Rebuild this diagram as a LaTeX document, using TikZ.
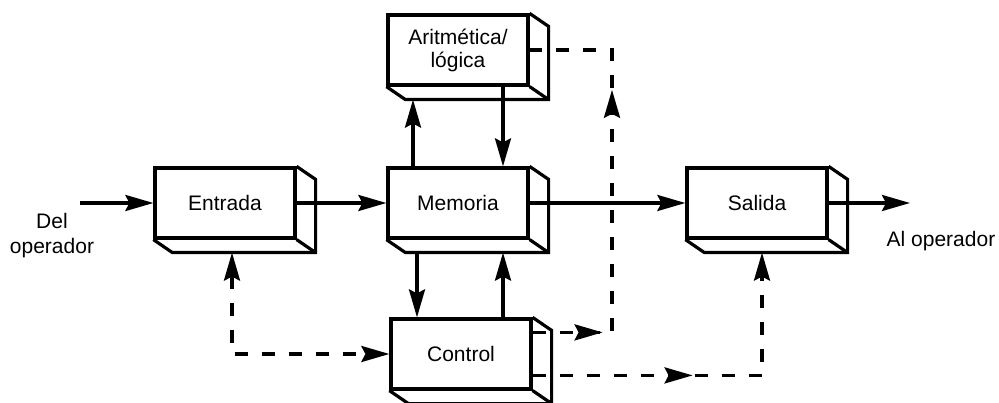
\documentclass[tikz,border=0pt]{standalone}
\usepackage{fontspec}
\setmainfont{Liberation Sans}
\usetikzlibrary{arrows.meta,calc,decorations.markings}
\begin{document}
\begin{tikzpicture}[x=1pt,y=-1pt,
  >={Stealth[length=28pt,width=16pt,inset=4pt]},
  edge/.style={line width=3.2pt},
  box/.style={draw, edge, fill=white, minimum width=140pt, minimum height=70pt, inner sep=0pt,
    font=\fontsize{21}{23}\selectfont, align=center},
  lbl/.style={font=\fontsize{21}{25}\selectfont, align=center, inner sep=0pt},
  dsh/.style={edge, dash pattern=on 13pt off 14pt},
  midarrow/.style={postaction={decorate, decoration={markings, mark=at position #1 with {\arrow{>}}}}}
]
\useasboundingbox (0,0) rectangle (999,403);

% boxes
\node[box] (ent) at (225,203) {Entrada};
\node[box] (mem) at (458,203) {Memoria};
\node[box] (ari) at (458,50) {Aritmética/\\lógica};
\node[box] (ctl) at (461,354) {Control};
\node[box] (sal) at (757,203) {Salida};

\foreach \n in {ent,mem,ari,ctl,sal}{
  \draw[edge] (\n.north east) -- ++(19,13) -- ($(\n.south east)+(19,13)$) -- ($(\n.south west)+(19,13)$) -- (\n.south west);
  \draw[edge] (\n.south east) -- ++(19,13);
}

% labels
\node[lbl] (del) at (52,236) {Del\\operador};
\node[lbl] (alop) at (941,241) {Al operador};

\coordinate (inA) at (80,203);
\coordinate (outA) at (910,203);

% solid flows
\draw[edge,->] (inA) -- (ent.west);
\draw[edge,->] (ent.east) -- (mem.west);
\draw[edge,->] (mem.east) -- (sal.west);
\draw[edge,->] (sal.east) -- (outA);

\draw[edge,->] ($(mem.north)+(-45,0)$) -- ($(ari.south)+(-45,13)$);
\draw[edge,->] ($(ari.south)+(45,0)$) -- ($(mem.north)+(45,0)$);
\draw[edge,->] ($(mem.south)+(-41,13)$) -- ($(ctl.north)+(-44,0)$);
\draw[edge,->] ($(ctl.north)+(42,0)$) -- ($(mem.south)+(45,13)$);

% dashed control lines
\coordinate (cA) at ($(ctl.north east)+(0,15)$);
\coordinate (jA) at (612,0);
\draw[dsh, midarrow=70pt, postaction={decorate, decoration={markings, mark=at position 322pt with {\arrow{>}}}}]
  (cA) -- (cA -| jA) -- (jA |- ari.east) -- (ari.east);

\coordinate (cB) at ($(ctl.north east)+(0,58)$);
\coordinate (eB) at ($(sal.south)+(5,13)$);
\draw[dsh, ->, midarrow=160pt] (cB) -- (cB -| eB) -- (eB);

\coordinate (eC) at ($(ent.south)+(7,13)$);
\draw[dsh, <->] (eC) |- (ctl.west);
\end{tikzpicture}
\end{document}
